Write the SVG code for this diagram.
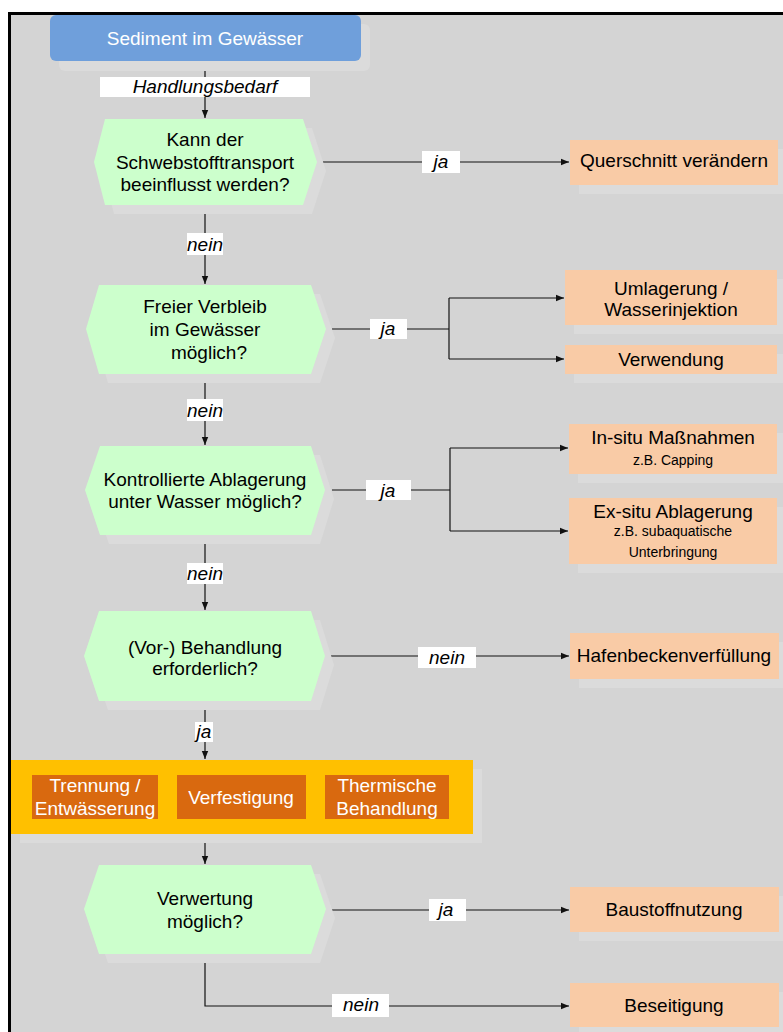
<svg xmlns="http://www.w3.org/2000/svg" width="783" height="1032" viewBox="0 0 783 1032">
<defs>
<style>
.t{font-family:"Liberation Sans",Arial,sans-serif;font-size:19px;fill:#000;text-anchor:middle}
.w{fill:#fff}
.s{font-size:14px}
.i{font-style:italic}
.sh{fill:#dbdbdb}
.hex{fill:#ccffcc}
.box{fill:#f9cba6}
.lbl{fill:#fff}
.ln{fill:none;stroke:#111;stroke-width:1.2}
</style>
<marker id="ar" markerUnits="userSpaceOnUse" markerWidth="8" markerHeight="8" viewBox="0 0 8 8" refX="8" refY="4" orient="auto">
<path d="M0,0.8 L8,4 L0,7.2 Z" fill="#111"/>
</marker>
</defs>
<rect x="0" y="0" width="783" height="1032" fill="#fff"/>
<rect x="9" y="13" width="774" height="1019" fill="#d4d4d4"/>
<path d="M9.5,1032 V13.5 H783" fill="none" stroke="#000" stroke-width="3"/>

<g id="connectors">
<path class="ln" d="M205,61 V118" marker-end="url(#ar)"/>
<rect class="lbl" x="100" y="77" width="210" height="20"/>
<text class="t i" x="205" y="93">Handlungsbedarf</text>

<path class="ln" d="M323,162 H569" marker-end="url(#ar)"/>
<rect class="lbl" x="422" y="151" width="38" height="22"/>
<text class="t i" x="441" y="168">ja</text>

<path class="ln" d="M205,214 V284" marker-end="url(#ar)"/>
<rect class="lbl" x="187" y="233" width="36" height="22"/>
<text class="t i" x="205" y="251">nein</text>

<path class="ln" d="M332,329 H449"/>
<path class="ln" d="M449,298 V359"/>
<path class="ln" d="M449,298 H564" marker-end="url(#ar)"/>
<path class="ln" d="M449,359 H564" marker-end="url(#ar)"/>
<rect class="lbl" x="370" y="319" width="37" height="20"/>
<text class="t i" x="388" y="335">ja</text>

<path class="ln" d="M205,383 V445" marker-end="url(#ar)"/>
<rect class="lbl" x="187" y="399" width="36" height="22"/>
<text class="t i" x="205" y="417">nein</text>

<path class="ln" d="M332,490 H450"/>
<path class="ln" d="M450,448 V531"/>
<path class="ln" d="M450,448 H568" marker-end="url(#ar)"/>
<path class="ln" d="M450,531 H568" marker-end="url(#ar)"/>
<rect class="lbl" x="366" y="480" width="45" height="20"/>
<text class="t i" x="388" y="497">ja</text>

<path class="ln" d="M205,543 V610" marker-end="url(#ar)"/>
<rect class="lbl" x="187" y="563" width="36" height="21"/>
<text class="t i" x="205" y="580">nein</text>

<path class="ln" d="M331,656 H569" marker-end="url(#ar)"/>
<rect class="lbl" x="418" y="647" width="58" height="21"/>
<text class="t i" x="447" y="664">nein</text>

<path class="ln" d="M205,709 V759" marker-end="url(#ar)"/>
<rect class="lbl" x="195" y="722" width="18" height="20"/>
<text class="t i" x="204" y="738">ja</text>

<path class="ln" d="M205,843 V864" marker-end="url(#ar)"/>

<path class="ln" d="M332,910 H569" marker-end="url(#ar)"/>
<rect class="lbl" x="429" y="899" width="37" height="22"/>
<text class="t i" x="446" y="916">ja</text>

<path class="ln" d="M205,963 V1006 H569" marker-end="url(#ar)"/>
<rect class="lbl" x="332" y="994" width="57" height="23"/>
<text class="t i" x="361" y="1011">nein</text>
</g>

<g id="start">
<rect class="sh" x="59" y="24" width="311" height="47" rx="6"/>
<rect x="50" y="15" width="311" height="46" rx="6" fill="#6f9fdb"/>
<text class="t w" x="205" y="45">Sediment im Gewässer</text>
</g>

<g id="q1">
<polygon class="sh" points="103,171 114,128 312,128 326,171 312,214 114,214"/>
<polygon class="hex" points="94,162 105,119 303,119 317,162 303,205 105,205"/>
<text class="t" x="205" y="146">Kann der</text>
<text class="t" x="205" y="169">Schwebstofftransport</text>
<text class="t" x="205" y="191">beeinflusst werden?</text>
</g>

<g id="querschnitt">
<rect class="sh" x="579" y="149" width="208" height="45"/>
<rect class="box" x="570" y="140" width="208" height="45"/>
<text class="t" x="674" y="167">Querschnitt verändern</text>
</g>

<g id="q2">
<polygon class="sh" points="95,338 108,294 320,294 335,338 320,383 108,383"/>
<polygon class="hex" points="86,329 99,285 311,285 326,329 311,374 99,374"/>
<text class="t" x="205" y="313">Freier Verbleib</text>
<text class="t" x="205" y="336">im Gewässer</text>
<text class="t" x="209" y="359">möglich?</text>
</g>

<g id="umlagerung">
<rect class="sh" x="574" y="279" width="212" height="55"/>
<rect class="box" x="565" y="270" width="212" height="55"/>
<text class="t" x="671" y="295">Umlagerung /</text>
<text class="t" x="671" y="316">Wasserinjektion</text>
</g>

<g id="verwendung">
<rect class="sh" x="574" y="354" width="212" height="29"/>
<rect class="box" x="565" y="345" width="212" height="29"/>
<text class="t" x="671" y="366">Verwendung</text>
</g>

<g id="q3">
<polygon class="sh" points="94,499 109,455 320,455 334,499 320,544 109,544"/>
<polygon class="hex" points="85,490 100,446 311,446 325,490 311,535 100,535"/>
<text class="t" x="205" y="486">Kontrollierte Ablagerung</text>
<text class="t" x="205" y="508">unter Wasser möglich?</text>
</g>

<g id="insitu">
<rect class="sh" x="578" y="433" width="208" height="50"/>
<rect class="box" x="569" y="424" width="208" height="50"/>
<text class="t" x="673" y="444">In-situ Maßnahmen</text>
<text class="t s" x="673" y="465">z.B. Capping</text>
</g>

<g id="exsitu">
<rect class="sh" x="578" y="507" width="208" height="66"/>
<rect class="box" x="569" y="498" width="208" height="66"/>
<text class="t" x="673" y="518">Ex-situ Ablagerung</text>
<text class="t s" x="673" y="536">z.B. subaquatische</text>
<text class="t s" x="673" y="557">Unterbringung</text>
</g>

<g id="q4">
<polygon class="sh" points="93,665 108,620 320,620 334,665 320,710 108,710"/>
<polygon class="hex" points="84,656 99,611 311,611 325,656 311,701 99,701"/>
<text class="t" x="205" y="654">(Vor-) Behandlung</text>
<text class="t" x="205" y="675">erforderlich?</text>
</g>

<g id="hafen">
<rect class="sh" x="579" y="642" width="209" height="46"/>
<rect class="box" x="570" y="633" width="209" height="46"/>
<text class="t" x="674" y="662">Hafenbeckenverfüllung</text>
</g>

<g id="behandlung">
<rect class="sh" x="20" y="769" width="462" height="74"/>
<rect x="11" y="760" width="462" height="74" fill="#ffc000"/>
<g id="trennung">
<rect x="32" y="775" width="126" height="44" fill="#d9690f"/>
<text class="t w" x="95" y="792">Trennung /</text>
<text class="t w" x="95" y="815">Entwässerung</text>
</g>
<g id="verfestigung">
<rect x="177" y="775" width="129" height="44" fill="#d9690f"/>
<text class="t w" x="241" y="804">Verfestigung</text>
</g>
<g id="thermisch">
<rect x="325" y="775" width="124" height="44" fill="#d9690f"/>
<text class="t w" x="387" y="792">Thermische</text>
<text class="t w" x="387" y="815">Behandlung</text>
</g>
</g>

<g id="q5">
<polygon class="sh" points="93,918 108,874 320,874 335,918 320,963 108,963"/>
<polygon class="hex" points="84,909 99,865 311,865 326,909 311,954 99,954"/>
<text class="t" x="205" y="905">Verwertung</text>
<text class="t" x="205" y="928">möglich?</text>
</g>

<g id="baustoff">
<rect class="sh" x="579" y="896" width="209" height="45"/>
<rect class="box" x="570" y="887" width="209" height="45"/>
<text class="t" x="674" y="916">Baustoffnutzung</text>
</g>

<g id="beseitigung">
<rect class="sh" x="579" y="992" width="209" height="44"/>
<rect class="box" x="570" y="983" width="209" height="44"/>
<text class="t" x="674" y="1012">Beseitigung</text>
</g>
</svg>
